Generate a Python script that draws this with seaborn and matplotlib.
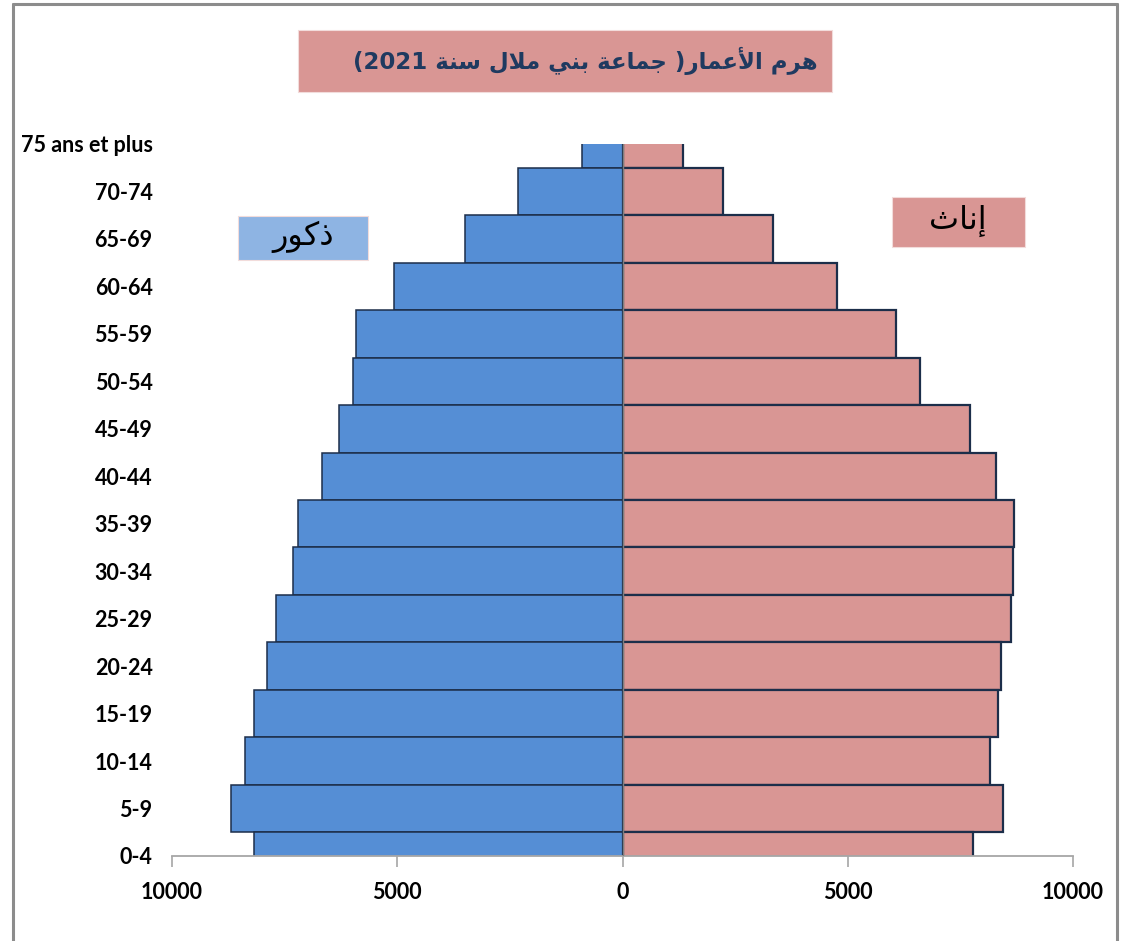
import numpy as np
import pandas as pd
import matplotlib
matplotlib.use("Agg")
import matplotlib.pyplot as plt
import seaborn as sns
from matplotlib.patches import Rectangle

# ---------------- data ----------------
ages = ["0-4", "5-9", "10-14", "15-19", "20-24", "25-29", "30-34", "35-39",
        "40-44", "45-49", "50-54", "55-59", "60-64", "65-69", "70-74", "75 ans et plus"]
males = [8190, 8690, 8390, 8190, 7890, 7690, 7310, 7210,
         6660, 6290, 5990, 5920, 5080, 3500, 2330, 910]
females = [7790, 8440, 8160, 8340, 8410, 8620, 8660, 8690,
           8290, 7720, 6610, 6060, 4770, 3350, 2220, 1350]
x_ticks = [-10000, -5000, 0, 5000, 10000]
x_ticklabels = ["10000", "5000", "0", "5000", "10000"]

# ---------------- minimal Arabic shaping (presentation forms) ----------------
FORMS = {  # isolated, final, initial, medial
    "ا": ("\uFE8D", "\uFE8E", None, None),
    "أ": ("\uFE83", "\uFE84", None, None),
    "إ": ("\uFE87", "\uFE88", None, None),
    "ب": ("\uFE8F", "\uFE90", "\uFE91", "\uFE92"),
    "ة": ("\uFE93", "\uFE94", None, None),
    "ث": ("\uFE99", "\uFE9A", "\uFE9B", "\uFE9C"),
    "ج": ("\uFE9D", "\uFE9E", "\uFE9F", "\uFEA0"),
    "ذ": ("\uFEAB", "\uFEAC", None, None),
    "ر": ("\uFEAD", "\uFEAE", None, None),
    "س": ("\uFEB1", "\uFEB2", "\uFEB3", "\uFEB4"),
    "ع": ("\uFEC9", "\uFECA", "\uFECB", "\uFECC"),
    "ك": ("\uFED9", "\uFEDA", "\uFEDB", "\uFEDC"),
    "ل": ("\uFEDD", "\uFEDE", "\uFEDF", "\uFEE0"),
    "م": ("\uFEE1", "\uFEE2", "\uFEE3", "\uFEE4"),
    "ن": ("\uFEE5", "\uFEE6", "\uFEE7", "\uFEE8"),
    "ه": ("\uFEE9", "\uFEEA", "\uFEEB", "\uFEEC"),
    "و": ("\uFEED", "\uFEEE", None, None),
    "ي": ("\uFEF1", "\uFEF2", "\uFEF3", "\uFEF4"),
}
LAMALEF = {"ا": ("\uFEFB", "\uFEFC"), "أ": ("\uFEF7", "\uFEF8"), "إ": ("\uFEF9", "\uFEFA")}


def shape_word(word):
    """Return the word in visual (left-to-right) glyph order."""
    units = []
    i = 0
    while i < len(word):
        c = word[i]
        if c == "ل" and i + 1 < len(word) and word[i + 1] in LAMALEF:
            units.append(("LA", word[i + 1]))
            i += 2
        else:
            units.append(("C", c))
            i += 1

    def joins_next(u):
        if u[0] == "LA":
            return False
        return FORMS[u[1]][2] is not None

    out = []
    for k, u in enumerate(units):
        prev_j = k > 0 and joins_next(units[k - 1])
        next_j = k + 1 < len(units) and joins_next(u)
        if u[0] == "LA":
            out.append(LAMALEF[u[1]][1 if prev_j else 0])
            continue
        iso, fin, ini, med = FORMS[u[1]]
        if prev_j and next_j:
            g = med
        elif prev_j:
            g = fin
        elif next_j:
            g = ini
        else:
            g = iso
        out.append(g)
    return "".join(reversed(out))


title_text = ("(2021 " + shape_word("سنة") + " " + shape_word("ملال") + " " +
              shape_word("بني") + " " + shape_word("جماعة") + " )" +
              shape_word("الأعمار") + " " + shape_word("هرم"))
male_label = shape_word("ذكور")
female_label = shape_word("إناث")

# ---------------- style ----------------
sns.set_theme(style="white")
plt.rcParams["font.family"] = ["Lato", "DejaVu Sans"]

male_color = "#558ED5"
female_color = "#D99694"
edge_color = "#1C2E4A"
title_color = "#1F3A60"

order = list(reversed(ages))
df = pd.DataFrame({"age": ages,
                   "male": [-v for v in males],
                   "female": females})

fig = plt.figure(figsize=(11.28, 9.41), dpi=100)
W, H = 1128, 941
ax = fig.add_axes([172 / W, 1 - 856 / H, (1073 - 172) / W, (856 - 144) / H])

sns.barplot(data=df, x="male", y="age", order=order, orient="h", width=1.0,
            color=male_color, edgecolor=edge_color, linewidth=1.1,
            saturation=1, ax=ax)
sns.barplot(data=df, x="female", y="age", order=order, orient="h", width=1.0,
            color=female_color, edgecolor=edge_color, linewidth=1.6,
            saturation=1, ax=ax)

ax.set_xlim(-10000, 10000)
ax.set_ylim(len(ages) - 1, 0)
ax.set_xlabel("")
ax.set_ylabel("")
ax.set_xticks(x_ticks)
ax.set_xticklabels(x_ticklabels, fontsize=15.5, fontweight="bold", color="black")
for lab in ax.get_yticklabels():
    lab.set_fontsize(15.5)
    lab.set_fontweight("bold")
    lab.set_color("black")
ax.tick_params(axis="y", length=0, pad=14)
ax.tick_params(axis="x", length=8, width=1.2, color="#A6A6A6", direction="out", pad=11,
               bottom=True)
for s in ["top", "right", "left"]:
    ax.spines[s].set_visible(False)
ax.spines["bottom"].set_color("#A6A6A6")
ax.spines["bottom"].set_linewidth(1.3)
ax.axvline(0, color="#7F7F7F", linewidth=1.0, zorder=5)
ax.set_facecolor("white")
ax.patch.set_alpha(0)

# ---------------- title & labels boxes ----------------
def fig_box(x0, y0, x1, y1, color):
    fig.patches.append(Rectangle((x0 / W, 1 - y1 / H), (x1 - x0) / W, (y1 - y0) / H,
                                 transform=fig.transFigure, facecolor=color,
                                 edgecolor="#F2DCDB", linewidth=0.8, zorder=0))

fig_box(298, 30, 832, 92, female_color)
fig.text(585 / W, 1 - 61 / H, title_text, ha="center", va="center",
         fontsize=16.5, fontweight="bold", color=title_color, family=["DejaVu Sans"])

fig_box(238, 216, 368, 260, "#8EB4E3")
fig.text(303 / W, 1 - 237 / H, male_label, ha="center", va="center",
         fontsize=23, color="black", family=["DejaVu Sans"])

fig_box(892, 197, 1025, 247, female_color)
fig.text(958 / W, 1 - 221 / H, female_label, ha="center", va="center",
         fontsize=23, color="black", family=["DejaVu Sans"])

# ---------------- outer frame (partial, as in the reference) ----------------
frame_kw = dict(transform=fig.transFigure, color="#8C8C8C", linewidth=2.2)
fig.add_artist(plt.Line2D([13 / W, 1117 / W], [1 - 4 / H, 1 - 4 / H], **frame_kw))
fig.add_artist(plt.Line2D([13 / W, 13 / W], [1 - 4 / H, 0], **frame_kw))
fig.add_artist(plt.Line2D([1117 / W, 1117 / W], [1 - 4 / H, 0], **frame_kw))

fig.savefig("out.png", dpi=100, facecolor="white")
